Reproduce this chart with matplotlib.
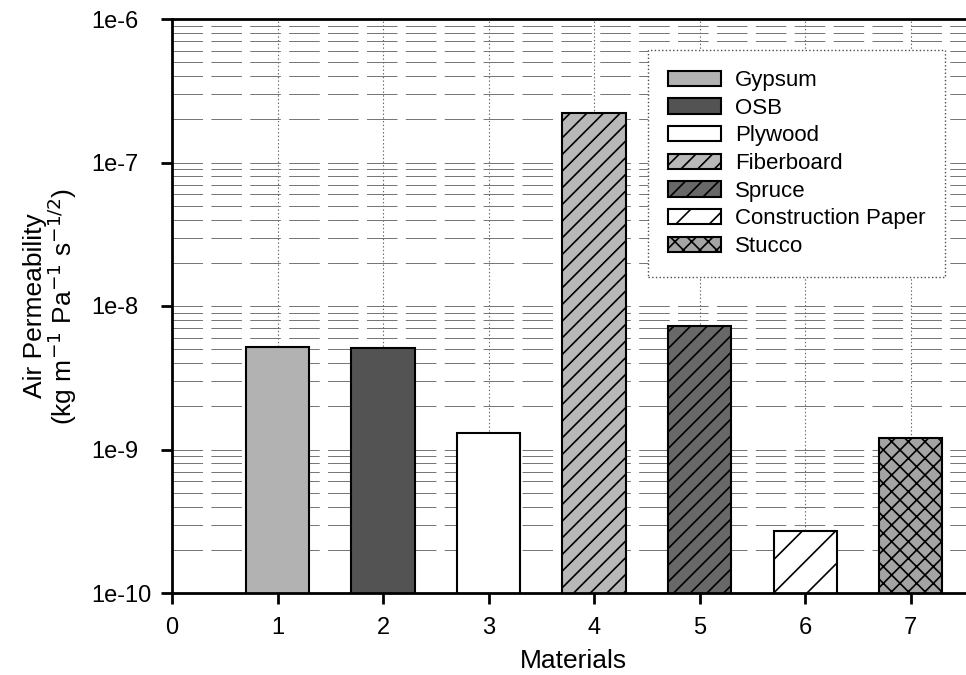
import numpy as np
import matplotlib as mpl
import matplotlib.pyplot as plt
from matplotlib.ticker import FixedLocator, FuncFormatter, LogLocator, NullFormatter

materials = ["Gypsum", "OSB", "Plywood", "Fiberboard", "Spruce",
             "Construction Paper", "Stucco"]
positions = [1, 2, 3, 4, 5, 6, 7]
permeability = [5.2e-9, 5.1e-9, 1.3e-9, 2.2e-7, 7.3e-9, 2.7e-10, 1.2e-9]
fills = ["#b2b2b2", "#535353", "#ffffff", "#b8b8b8", "#686868", "#ffffff", "#a4a4a4"]
hatches = ["", "", "", "//", "//", "/", "xx"]
decades = [1e-10, 1e-9, 1e-8, 1e-7, 1e-6]

mpl.rcParams.update({
    "font.family": ["Liberation Sans", "DejaVu Sans"],
    "font.size": 16,
    "hatch.linewidth": 1.2,
    "lines.scale_dashes": False,
    "axes.linewidth": 2.0,
})

fig = plt.figure(figsize=(9.66, 6.75), dpi=100)
ax = fig.add_axes([172 / 966, 82 / 675, 802 / 966, 574 / 675])

ax.set_yscale("log")
ax.set_ylim(1e-10, 1e-6)
ax.set_xlim(0, 7.6)

# grid: dashed horizontal lines at every log step, dotted verticals at each material
ax.yaxis.set_major_locator(FixedLocator(decades))
ax.yaxis.set_minor_locator(LogLocator(base=10, subs=np.arange(2, 10)))
ax.yaxis.set_minor_formatter(NullFormatter())
ax.yaxis.set_major_formatter(FuncFormatter(lambda v, p: f"1e{int(round(np.log10(v)))}"))
ax.grid(axis="y", which="both", color="0.45", lw=0.7, ls=(0, (22, 6)), zorder=0)
for x in positions:
    ax.axvline(x, color="0.4", lw=0.8, ls=":", zorder=0)
ax.set_axisbelow(True)

for x, v, name, fc, h in zip(positions, permeability, materials, fills, hatches):
    ax.bar(x, v, width=0.6, color=fc, edgecolor="black", linewidth=1.5,
           hatch=h, label=name, zorder=2)

ax.set_xticks(range(0, 8))
ax.tick_params(axis="both", which="major", direction="out", length=8, width=2,
               labelsize=17)
ax.tick_params(axis="x", pad=9)
ax.tick_params(axis="y", pad=50)
for lbl in ax.get_yticklabels():
    lbl.set_ha("left")
ax.tick_params(axis="y", which="minor", length=0)
ax.spines["right"].set_visible(False)

ax.set_xlabel("Materials", fontsize=19)
ax.xaxis.set_label_coords(0.5, -(661 - 593) / 574)
ax.xaxis.label.set_va("center")
ax.set_ylabel("Air Permeability\n(kg m$^{-1}$ Pa$^{-1}$ s$^{-1/2}$)", fontsize=19,
              linespacing=0.95)
ax.yaxis.set_label_coords((51 - 172) / 802, 0.5)
ax.yaxis.label.set_va("center")

leg = ax.legend(loc="upper left", bbox_to_anchor=(648 / 966, 1 - 50 / 675),
                bbox_transform=fig.transFigure, fontsize=16, frameon=True,
                fancybox=False, handlelength=2.4, handleheight=0.68,
                labelspacing=0.3, handletextpad=0.6, borderpad=0.9,
                borderaxespad=0)
frame = leg.get_frame()
frame.set_linestyle(":")
frame.set_edgecolor("0.3")
frame.set_linewidth(1.0)
frame.set_facecolor("white")
frame.set_alpha(1)

fig.savefig("out.png", dpi=100)
